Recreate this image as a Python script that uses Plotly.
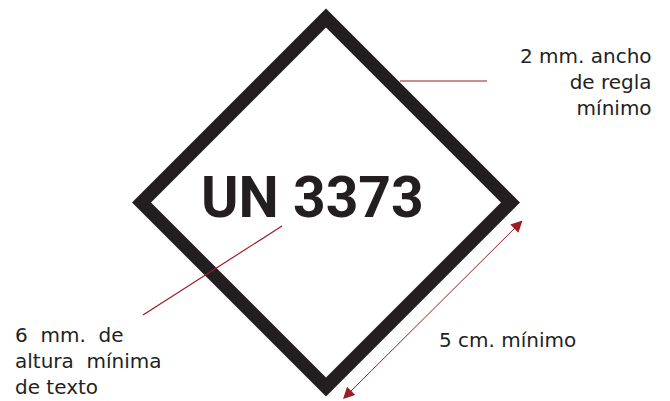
import plotly.graph_objects as go

# Diagram content (coordinates in a 670 x 401 drawing space, y downward)
diamond_center = [326, 202.5]
diamond_outer_half = 194
diamond_inner_half = 175
label_code = "UN 3373"
label_width = ["2 mm. ancho", "de regla", "mínimo"]
label_height = ["6\u00a0\u00a0mm.\u00a0\u00a0de", "altura\u00a0\u00a0mínima", "de texto"]
label_size = ["5 cm. mínimo"]
leader_width_x = [400, 487]
leader_width_y = [81, 81]
leader_height_x = [282, 143]
leader_height_y = [226, 315]
dim_arrow_x = [524, 343]
dim_arrow_y = [219, 399]

DARK = "#231f20"
RED = "#9b1c22"
FONT = "DejaVu Sans"
FS = 20

cx, cy = diamond_center


def diamond_path(h):
    return (f"M {cx} {cy - h} L {cx + h} {cy} L {cx} {cy + h} L {cx - h} {cy} Z")


fig = go.Figure()
fig.add_trace(go.Scatter(x=[0, 670], y=[0, 401], mode="markers",
                         marker=dict(opacity=0), hoverinfo="skip", showlegend=False))

fig.add_shape(type="path",
              path=diamond_path(diamond_outer_half) + " " + diamond_path(diamond_inner_half),
              fillcolor=DARK, fillrule="evenodd", line=dict(width=0), layer="below")

# leader lines
fig.add_trace(go.Scatter(x=leader_width_x, y=leader_width_y, mode="lines",
                         line=dict(color=RED, width=1.2), hoverinfo="skip", showlegend=False))
fig.add_trace(go.Scatter(x=leader_height_x, y=leader_height_y, mode="lines",
                         line=dict(color=RED, width=1.2), hoverinfo="skip", showlegend=False))

# dimension arrow
fig.add_annotation(x=dim_arrow_x[1], y=dim_arrow_y[1], ax=dim_arrow_x[0], ay=dim_arrow_y[0],
                   xref="x", yref="y", axref="x", ayref="y", text="", showarrow=True,
                   arrowside="end+start", arrowhead=2, arrowsize=2.3, arrowwidth=1,
                   arrowcolor=RED, standoff=0, startstandoff=0)

fig.add_annotation(x=312, y=197.5, xref="x", yref="y", text=f"<b>{label_code}</b>",
                   showarrow=False, xanchor="center", yanchor="middle",
                   font=dict(family="Roboto", size=57, color=DARK, weight=900))

fig.add_annotation(x=653, y=43, xref="x", yref="y", text="<br>".join(label_width),
                   showarrow=False, xanchor="right", yanchor="top", align="right",
                   borderpad=0, font=dict(family=FONT, size=FS, color=DARK))
fig.add_annotation(x=14, y=322, xref="x", yref="y", text="<br>".join(label_height),
                   showarrow=False, xanchor="left", yanchor="top", align="left",
                   borderpad=0, font=dict(family=FONT, size=FS, color=DARK))
fig.add_annotation(x=438, y=327, xref="x", yref="y", text=label_size[0],
                   showarrow=False, xanchor="left", yanchor="top", align="left",
                   borderpad=0, font=dict(family=FONT, size=FS, color=DARK))

fig.update_xaxes(range=[0, 670], visible=False, fixedrange=True)
fig.update_yaxes(range=[401, 0], visible=False, fixedrange=True)
fig.update_layout(width=670, height=401, margin=dict(l=0, r=0, t=0, b=0),
                  plot_bgcolor="white", paper_bgcolor="white", showlegend=False)

fig.write_html("out.html", config={"displayModeBar": False},
               post_script="document.body.style.margin='0';document.body.style.overflow='hidden';")
